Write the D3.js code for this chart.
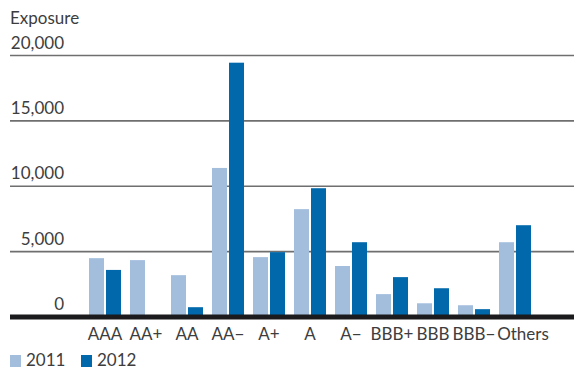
<!DOCTYPE html>
<html>
<head>
<meta charset="utf-8">
<script src="https://cdn.jsdelivr.net/npm/d3@7"></script>
<style>
  html, body { margin: 0; padding: 0; background: #fff; }
  svg { display: block; font-family: Lato, "Open Sans", sans-serif; }
</style>
</head>
<body>
<svg id="chart" width="574" height="369"></svg>
<script>
// Exposure by rating class, 2011 vs 2012
const categories = ["AAA", "AA+", "AA", "AA\u2212", "A+", "A", "A\u2212", "BBB+", "BBB", "BBB\u2212", "Others"];
const values2011 = [4500, 4350, 3200, 11400, 4580, 8250, 3900, 1750, 1050, 900, 5720];
const values2012 = [3600, 0, 750, 19450, 4960, 9850, 5720, 3050, 2200, 600, 7020];
const seriesNames = ["2011", "2012"];
const yTicks = [0, 5000, 10000, 15000, 20000];

const colors = { "2011": "#a3bedd", "2012": "#0068ab" };
const textColor = "#3d3d3d";
const fontSize = 17;

const svg = d3.select("#chart");
const W = 574;

const y = d3.scaleLinear().domain([0, 20000]).range([317, 55.5]);

const x0 = d3.scaleBand()
  .domain(categories)
  .range([84.5, 84.5 + 41 * categories.length])
  .paddingInner(9 / 41)
  .paddingOuter(4.5 / 41);

const x1 = d3.scaleBand()
  .domain(seriesNames)
  .range([0, x0.bandwidth()])
  .paddingInner(2 / 17);

const rows = categories.map((c, i) => ({
  cat: c,
  vals: [{ s: "2011", v: values2011[i] }, { s: "2012", v: values2012[i] }]
}));

// gridlines with tick labels sitting above them
const grid = svg.append("g");
grid.selectAll("line")
  .data(yTicks.filter(t => t > 0))
  .join("line")
  .attr("x1", 10).attr("x2", W)
  .attr("y1", d => y(d)).attr("y2", d => y(d))
  .attr("stroke", "#6f6f6f")
  .attr("stroke-width", 1.6);

grid.selectAll("text")
  .data(yTicks)
  .join("text")
  .attr("x", 64)
  .attr("y", d => y(d) - 7)
  .attr("text-anchor", "end")
  .attr("fill", textColor)
  .attr("font-size", fontSize)
  .text(d => d3.format(",")(d));

svg.append("text")
  .attr("x", 10).attr("y", 24)
  .attr("fill", textColor)
  .attr("font-size", fontSize)
  .text("Exposure");

// bars
const groups = svg.append("g").selectAll("g")
  .data(rows)
  .join("g")
  .attr("transform", d => `translate(${x0(d.cat)},0)`);

groups.selectAll("rect")
  .data(d => d.vals.filter(e => e.v > 0))
  .join("rect")
  .attr("x", d => x1(d.s))
  .attr("width", x1.bandwidth())
  .attr("y", d => y(d.v))
  .attr("height", d => y(0) - y(d.v))
  .attr("fill", d => colors[d.s]);

// baseline
svg.append("line")
  .attr("x1", 10).attr("x2", W)
  .attr("y1", y(0)).attr("y2", y(0))
  .attr("stroke", "#1b1b1d")
  .attr("stroke-width", 5);

// category labels ("Others" nudged right so it clears "BBB−")
svg.append("g").selectAll("text")
  .data(categories)
  .join("text")
  .attr("x", d => x0(d) + x0.bandwidth() / 2)
  .attr("dx", d => d === "Others" ? 8 : 0)
  .attr("y", 340)
  .attr("text-anchor", "middle")
  .attr("fill", textColor)
  .attr("font-size", fontSize)
  .text(d => d);

// legend
const legend = svg.append("g").selectAll("g")
  .data(seriesNames)
  .join("g")
  .attr("transform", (d, i) => `translate(${10 + i * 71},0)`);

legend.append("rect")
  .attr("x", 0).attr("y", 355)
  .attr("width", 11).attr("height", 12)
  .attr("fill", d => colors[d]);

legend.append("text")
  .attr("x", 16).attr("y", 366)
  .attr("fill", textColor)
  .attr("font-size", fontSize)
  .text(d => d);
</script>
</body>
</html>
